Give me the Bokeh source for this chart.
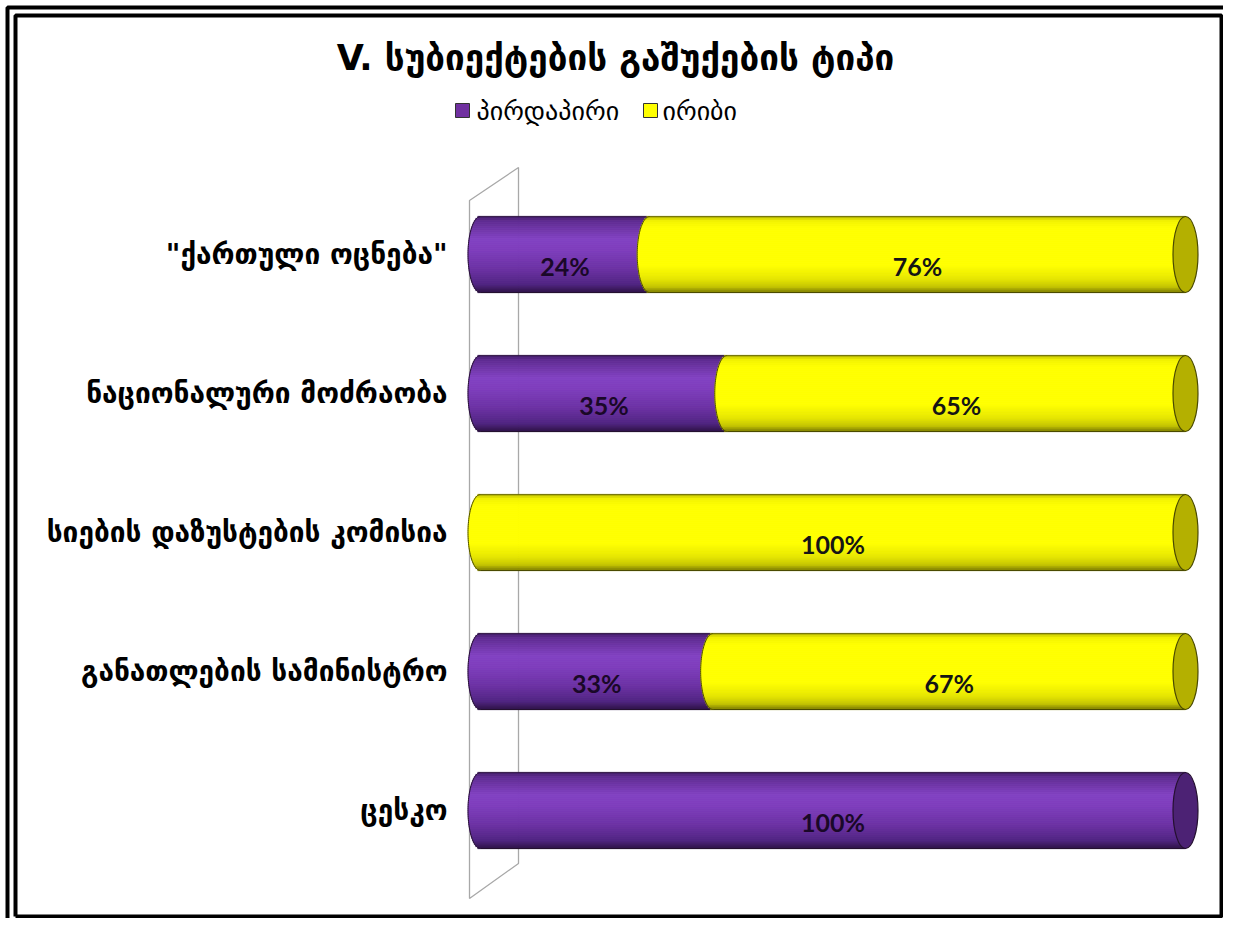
import numpy as np
from bokeh.plotting import figure
from bokeh.models import Range1d, ColumnDataSource
from bokeh.core.properties import value
from bokeh.embed import file_html
from bokeh.resources import INLINE

# ---------------- data ----------------
chart_title = "V. სუბიექტების გაშუქების ტიპი"
series_names = ["პირდაპირი", "ირიბი"]
categories = ['"ქართული ოცნება"', "ნაციონალური მოძრაობა", "სიების დაზუსტების კომისია",
              "განათლების სამინისტრო", "ცესკო"]
direct = [24, 35, 0, 33, 100]
indirect = [76, 65, 100, 67, 0]

# ---------------- layout helpers ----------------
W, H = 1223, 918
OFF = 0
X0_PAGE, X100_PAGE = 480, 1185
sx = (X100_PAGE - X0_PAGE) / 100.0
x_start = -(X0_PAGE - OFF) / sx
x_end = x_start + W / sx
TOP_PAGE, sy = 254, 139.0
n_cat = len(categories)
y_end = n_cat + (TOP_PAGE - OFF) / sy
y_start = y_end - H / sy


def X(px):
    return x_start + (px - OFF) / sx


def Y(py):
    return y_end - (py - OFF) / sy


GEO = value("DejaVu Sans")

p = figure(width=W, height=H, output_backend="svg", toolbar_location=None,
           x_range=Range1d(x_start, x_end), y_range=Range1d(y_start, y_end),
           min_border=0, background_fill_color="white", border_fill_color="white")
p.axis.visible = False
p.grid.visible = False
p.outline_line_color = None

# ---------------- borders ----------------
p.line([X(7), X(7), X(1240)], [Y(940), Y(7), Y(7)], line_color="black", line_width=4)
p.line([X(15), X(15), X(W - 2), X(W - 2), X(15)], [Y(H - 2), Y(15), Y(15), Y(H - 2), Y(H - 2)],
       line_color="black", line_width=4)

# ---------------- back wall ----------------
p.patch([X(469), X(518), X(518), X(469)], [Y(200), Y(167), Y(863), Y(898)],
        fill_color=None, line_color="#a8a8a8", line_width=1.3)

# ---------------- cylinders ----------------
ycat = [n_cat - i for i in range(n_cat)]
b = 76 / sy / 2.0          # half bar thickness (data)
a = 12.5 / sx              # cap half-width (data)


def profile(stops, u):
    us = [s[0] for s in stops]
    cols = np.array([[int(s[1][i:i + 2], 16) for i in (1, 3, 5)] for s in stops], float)
    c = [np.interp(u, us, cols[:, k]) for k in range(3)]
    return "#%02x%02x%02x" % tuple(int(round(v)) for v in c)


purple_stops = [(0.0, "#3e1a60"), (0.06, "#5e2b90"), (0.3, "#8242c2"), (0.45, "#7e3dbc"),
                (0.7, "#6b31a3"), (0.9, "#502482"), (1.0, "#2e1248")]
yellow_stops = [(0.0, "#9c9c00"), (0.05, "#f0f000"), (0.15, "#ffff00"), (0.65, "#ffff00"),
                (0.82, "#e8e800"), (0.93, "#c6c600"), (1.0, "#7e7e00")]
styles = [
    dict(stops=purple_stops, cap="#4c2274", edge="#24102f", text="#1a0828"),
    dict(stops=yellow_stops, cap="#b4b000", edge="#4a4a00", text="#151515"),
]

NS = 38
uu = (np.arange(NS) + 0.5) / NS
tt = b * (1 - 2 * uu)                       # offset from centre (top positive)
bulge = a * np.sqrt(np.clip(1 - (tt / b) ** 2, 0, 1))
hs = 2 * b / NS * 1.2

lab_x, lab_y, lab_t, lab_c = [], [], [], []
for ci, yc in enumerate(ycat):
    vals = [direct[ci], indirect[ci]]
    starts = [0, direct[ci]]
    last = max(i for i, v in enumerate(vals) if v > 0)
    for si, v in enumerate(vals):
        if v <= 0:
            continue
        st = styles[si]
        s0 = starts[si]
        s1 = s0 + v
        left = s0 - bulge
        right = (s1 - bulge) if si != last else np.full(NS, s1)
        cols = [profile(st["stops"], u) for u in uu]
        src = ColumnDataSource(dict(y=yc + tt, left=left, right=right, c=cols))
        p.hbar(y="y", left="left", right="right", height=hs, fill_color="c",
               line_color="c", line_width=0.6, source=src)
        # curved left edge outline
        th = np.linspace(-np.pi / 2, np.pi / 2, 60)
        p.line(s0 - a * np.cos(th), yc + b * np.sin(th), line_color=st["edge"], line_width=1)
        # top / bottom edges
        p.line([s0, s1], [yc + b, yc + b], line_color=st["edge"], line_width=1, line_alpha=0.6)
        p.line([s0, s1], [yc - b, yc - b], line_color=st["edge"], line_width=1)
        lab_x.append(s0 + v / 2.0)
        lab_y.append(yc - 11 / sy)
        lab_t.append("%d%%" % v)
        lab_c.append(st["text"])
        if si == last:
            p.ellipse(x=[s1], y=[yc], width=2 * a, height=2 * b, fill_color=st["cap"],
                      line_color=st["edge"], line_width=1.2)

p.text(x=lab_x, y=lab_y, text=lab_t, text_color=lab_c, text_font=value("Lato"),
       text_font_style="bold", text_font_size="25px", text_align="center",
       text_baseline="middle")

# ---------------- category labels ----------------
p.text(x=[X(447)] * n_cat, y=ycat, text=categories, text_font=GEO, text_font_style="bold",
       text_font_size="28px", text_align="right", text_baseline="middle", text_color="black")

# ---------------- title ----------------
p.text(x=[X(615)], y=[Y(57)], text=[chart_title], text_font=GEO, text_font_style="bold",
       text_font_size="35px", text_align="center", text_baseline="middle", text_color="black")

# ---------------- legend ----------------
leg_sq_x = [X(462), X(650)]
leg_tx_x = [X(476), X(662)]
p.scatter(x=leg_sq_x, y=[Y(110)] * 2, marker="square", size=14,
          fill_color=["#7030a0", "#ffff00"], line_color="#333333", line_width=1)
p.text(x=leg_tx_x, y=[Y(110)] * 2, text=series_names, text_font=GEO, text_font_size="26px",
       text_align="left", text_baseline="middle", text_color="black")

open("out.html", "w").write(file_html(p, INLINE))
